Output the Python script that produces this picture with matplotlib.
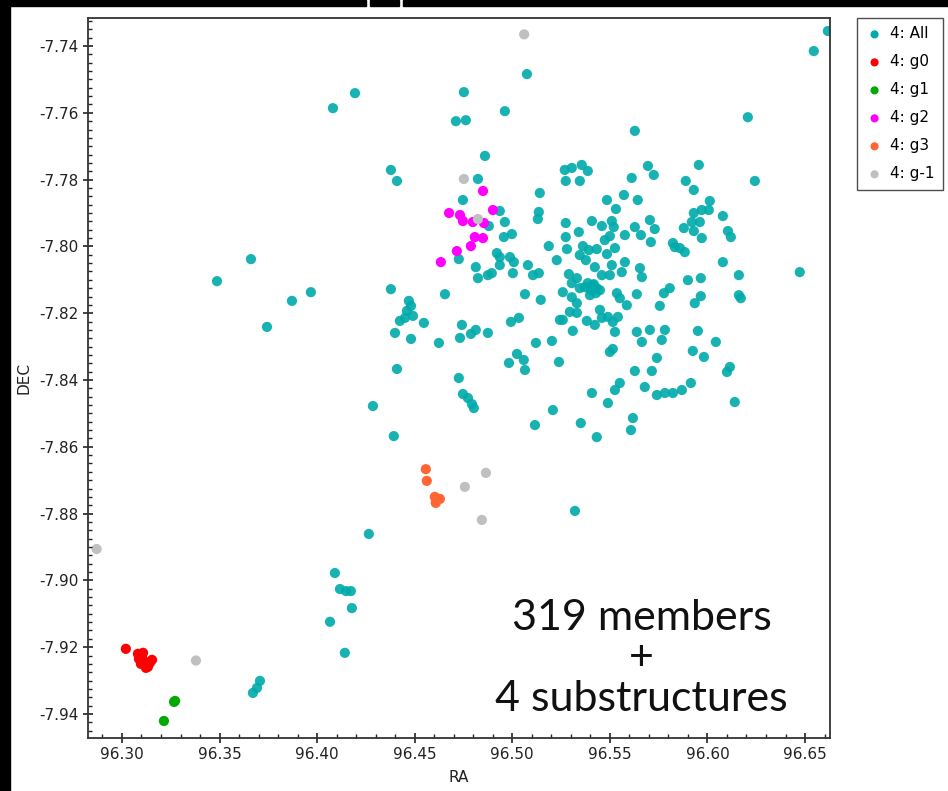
"""Sky positions of cluster members and the substructures found in them."""
import matplotlib.pyplot as plt
from matplotlib.patches import Rectangle
from matplotlib.ticker import MultipleLocator

# 4: All members
all_ra = [
    96.5269, 96.5305, 96.5356, 96.5387, 96.5274, 96.5346, 96.5695, 96.5725, 96.5956, 96.5889,
    96.5930, 96.5612, 96.5141, 96.5136, 96.5131, 96.5485, 96.5572, 96.5643, 96.5531, 96.6012,
    96.5971, 96.5930, 96.6079, 96.6007, 96.5961, 96.5920, 96.5879, 96.5930, 96.5971, 96.6105,
    96.6120, 96.4936, 96.4962, 96.4998, 96.4957, 96.5274, 96.5341, 96.5408, 96.5459, 96.5510,
    96.5520, 96.5500, 96.5577, 96.5628, 96.5659, 96.5705, 96.5730, 96.5710, 96.5274, 96.5280,
    96.5187, 96.5228, 96.5362, 96.5392, 96.5433, 96.5474, 96.5485, 96.5526, 96.5346, 96.5377,
    96.5423, 96.5459, 96.5510, 96.5500, 96.5577, 96.5561, 96.5654, 96.5664, 96.5823, 96.5859,
    96.5884, 96.5833, 96.6079, 96.5900, 96.5966, 96.5638, 96.5756, 96.5777, 96.5807, 96.5966,
    96.5935, 96.6161, 96.6161, 96.4936, 96.4988, 96.5008, 96.5003, 96.5080, 96.5106, 96.5136,
    96.5065, 96.5146, 96.5290, 96.5331, 96.5305, 96.5259, 96.5346, 96.5413, 96.5398, 96.5449,
    96.5305, 96.5331, 96.5536, 96.5551, 96.5587, 96.5449, 96.5490, 96.5515, 96.5541, 96.5459,
    96.5295, 96.5331, 96.5244, 96.5259, 96.5382, 96.5423, 96.5526, 96.5310, 96.4993, 96.5034,
    96.5203, 96.5121, 96.5239, 96.4983, 96.5024, 96.5059, 96.5065, 96.5500, 96.5515, 96.5628,
    96.5715, 96.5741, 96.5638, 96.5664, 96.5705, 96.5766, 96.5782, 96.5951, 96.6043, 96.5925,
    96.5982, 96.6100, 96.6115, 96.5915, 96.5869, 96.5823, 96.5782, 96.5741, 96.5679, 96.5551,
    96.5526, 96.5408, 96.6617, 96.6545, 96.5075, 96.4962, 96.4752, 96.4762, 96.4711, 96.4194,
    96.4081, 96.6207, 96.5628, 96.4860, 96.4378, 96.4409, 96.6243, 96.3487, 96.3661, 96.3743,
    96.3871, 96.3968, 96.4286, 96.4265, 96.4091, 96.4117, 96.4148, 96.4173, 96.4178, 96.4066,
    96.4142, 96.3707, 96.3692, 96.3671, 96.4378, 96.4470, 96.4460, 96.4481, 96.4450, 96.4424,
    96.4491, 96.4481, 96.4399, 96.4547, 96.4624, 96.4409, 96.4393, 96.4732, 96.4742, 96.4726,
    96.4747, 96.4773, 96.4793, 96.4803, 96.4875, 96.4788, 96.4813, 96.4824, 96.4747, 96.4880,
    96.4726, 96.4921, 96.4936, 96.4813, 96.4824, 96.4875, 96.4895, 96.4655, 96.5208, 96.5116,
    96.5351, 96.5433, 96.5608, 96.5618, 96.5490, 96.5321, 96.6140, 96.6473, 96.6171,
    96.5418, 96.5433, 96.5403, 96.5387, 96.5428, 96.5372,
]
all_dec = [
    -7.7771, -7.7765, -7.7756, -7.7774, -7.7804, -7.7804, -7.7759, -7.7786, -7.7756, -7.7804,
    -7.7831, -7.7795, -7.7840, -7.7897, -7.7918, -7.7861, -7.7846, -7.7861, -7.7888, -7.7864,
    -7.7891, -7.7900, -7.7909, -7.7891, -7.7927, -7.7927, -7.7945, -7.7954, -7.7975, -7.7954,
    -7.7972, -7.7894, -7.7927, -7.7963, -7.7972, -7.7930, -7.7957, -7.7924, -7.7939, -7.7924,
    -7.7942, -7.7969, -7.7966, -7.7942, -7.7966, -7.7921, -7.7948, -7.7987, -7.7972, -7.8008,
    -7.7999, -7.8041, -7.7999, -7.8011, -7.8008, -7.7981, -7.8023, -7.8005, -7.8026, -7.8041,
    -7.8062, -7.8086, -7.8056, -7.8086, -7.8047, -7.8077, -7.8065, -7.8092, -7.7990, -7.8005,
    -7.8017, -7.8002, -7.8047, -7.8101, -7.8095, -7.8143, -7.8178, -7.8140, -7.8125, -7.8149,
    -7.8170, -7.8086, -7.8146, -7.8032, -7.8032, -7.8047, -7.8080, -7.8056, -7.8086, -7.8080,
    -7.8143, -7.8160, -7.8083, -7.8095, -7.8110, -7.8137, -7.8125, -7.8116, -7.8146, -7.8131,
    -7.8152, -7.8170, -7.8140, -7.8155, -7.8176, -7.8190, -7.8211, -7.8226, -7.8211, -7.8214,
    -7.8196, -7.8199, -7.8220, -7.8220, -7.8223, -7.8235, -7.8256, -7.8253, -7.8226, -7.8214,
    -7.8283, -7.8289, -7.8346, -7.8349, -7.8322, -7.8340, -7.8370, -7.8316, -7.8307, -7.8373,
    -7.8373, -7.8334, -7.8256, -7.8286, -7.8250, -7.8280, -7.8250, -7.8253, -7.8286, -7.8313,
    -7.8331, -7.8376, -7.8361, -7.8409, -7.8430, -7.8439, -7.8439, -7.8445, -7.8421, -7.8409,
    -7.8430, -7.8439, -7.7355, -7.7415, -7.7484, -7.7595, -7.7538, -7.7622, -7.7625, -7.7541,
    -7.7586, -7.7613, -7.7654, -7.7729, -7.7771, -7.7804, -7.7804, -7.8104, -7.8038, -7.8241,
    -7.8163, -7.8137, -7.8478, -7.8861, -7.8978, -7.9026, -7.9032, -7.9032, -7.9083, -7.9124,
    -7.9217, -7.9301, -7.9322, -7.9337, -7.8128, -7.8163, -7.8193, -7.8178, -7.8214, -7.8223,
    -7.8208, -7.8277, -7.8259, -7.8229, -7.8289, -7.8367, -7.8568, -7.8274, -7.8235, -7.8394,
    -7.8442, -7.8454, -7.8472, -7.8484, -7.8259, -7.8262, -7.8250, -7.7798, -7.7861, -7.7939,
    -7.8038, -7.8020, -7.8056, -7.8062, -7.8095, -7.8086, -7.8080, -7.8143, -7.8490, -7.8535,
    -7.8529, -7.8571, -7.8550, -7.8514, -7.8469, -7.8792, -7.8466, -7.8077, -7.8155,
    -7.8113, -7.8125, -7.8131, -7.8110, -7.8140, -7.8122,
]

# substructures
g0_ra = [96.3020, 96.3082, 96.3087, 96.3108, 96.3108, 96.3118, 96.3133, 96.3143, 96.3154, 96.3123, 96.3097]
g0_dec = [-7.9205, -7.9220, -7.9235, -7.9217, -7.9238, -7.9250, -7.9259, -7.9247, -7.9238, -7.9262, -7.9250]
g1_ra = [96.3272, 96.3267, 96.3215]
g1_dec = [-7.9361, -7.9364, -7.9421]
g2_ra = [96.4850, 96.4676, 96.4732, 96.4747, 96.4798, 96.4855, 96.4901, 96.4808, 96.4850, 96.4788, 96.4716, 96.4634]
g2_dec = [-7.7834, -7.7900, -7.7906, -7.7924, -7.7927, -7.7930, -7.7891, -7.7972, -7.7975, -7.7999, -7.8014, -7.8047]
g3_ra = [96.4557, 96.4562, 96.4603, 96.4613, 96.4629, 96.4608]
g3_dec = [-7.8667, -7.8702, -7.8750, -7.8762, -7.8756, -7.8768]
gm1_ra = [96.4752, 96.4824, 96.5061, 96.2870, 96.3379, 96.4757, 96.4865, 96.4844]
gm1_dec = [-7.7798, -7.7918, -7.7365, -7.8906, -7.9240, -7.8720, -7.8678, -7.8819]

groups = [
    ("4: All", all_ra, all_dec, "#00aaaa"),
    ("4: g0", g0_ra, g0_dec, "#ff0000"),
    ("4: g1", g1_ra, g1_dec, "#00aa00"),
    ("4: g2", g2_ra, g2_dec, "#ff00ff"),
    ("4: g3", g3_ra, g3_dec, "#ff6633"),
    ("4: g-1", gm1_ra, gm1_dec, "#c0c0c0"),
]


def draw_border(fig):
    """Dark strips left over from the slide background."""
    for x0, y0, w, h in [(0, 0, 10, 791), (0, 0, 366, 6), (370, 0, 29, 6), (403, 0, 545, 6)]:
        fig.patches.append(Rectangle((x0 / 948, 1 - (y0 + h) / 791), w / 948, h / 791,
                                     transform=fig.transFigure, color="black", zorder=-1))


def plot_members(ax):
    """Scatter every group on RA/DEC."""
    for label, ra, dec, color in groups:
        alpha = 0.9 if label == "4: All" else 1.0
        ax.scatter(ra, dec, s=54, color=color, edgecolors="none", alpha=alpha, label=label)

    ax.set_xlim(96.2826, 96.6628)
    ax.set_ylim(-7.9472, -7.7316)
    ax.xaxis.set_major_locator(MultipleLocator(0.05))
    ax.xaxis.set_minor_locator(MultipleLocator(0.01))
    ax.yaxis.set_major_locator(MultipleLocator(0.02))
    ax.yaxis.set_minor_locator(MultipleLocator(0.0025))
    ax.xaxis.set_major_formatter(lambda v, p: f"{v:.2f}")
    ax.yaxis.set_major_formatter(lambda v, p: f"{v:.2f}")
    ax.tick_params(which="major", direction="inout", length=7, width=1.2,
                   labelsize=11, colors="#222222", pad=3)
    ax.tick_params(which="minor", direction="in", length=3, width=1.0, colors="#222222")
    ax.tick_params(top=False, right=False, which="both")
    for spine in ax.spines.values():
        spine.set_color("#333333")
        spine.set_linewidth(1.3)
    ax.set_xlabel("RA", fontsize=11, color="#222222", labelpad=6)
    ax.set_ylabel("DEC", fontsize=11, color="#222222", labelpad=6)

    ax.text(0.746, 0.111, "319 members\n+\n4 substructures", transform=ax.transAxes,
            ha="center", va="center", multialignment="center", fontsize=31,
            family="Lato", color="#111111", linespacing=1.08)


def main():
    """Build and save the figure."""
    fig = plt.figure(figsize=(9.48, 7.91), dpi=100)
    draw_border(fig)
    ax = fig.add_axes([88 / 948, 53 / 791, 742 / 948, 720 / 791])
    plot_members(ax)

    handles, labels = ax.get_legend_handles_labels()
    leg = fig.legend(handles, labels, loc="upper left",
                     bbox_to_anchor=(857 / 948, 1 - 18 / 791), fontsize=11,
                     frameon=True, fancybox=False, borderpad=0.55, labelspacing=0.85,
                     handletextpad=0.4, handlelength=1.2, markerscale=0.8, borderaxespad=0)
    leg.get_frame().set_edgecolor("#222222")
    leg.get_frame().set_linewidth(1.0)
    for h in leg.legend_handles:
        h.set_alpha(1.0)

    fig.savefig("out.png", dpi=100)
    plt.close(fig)


if __name__ == "__main__":
    main()
